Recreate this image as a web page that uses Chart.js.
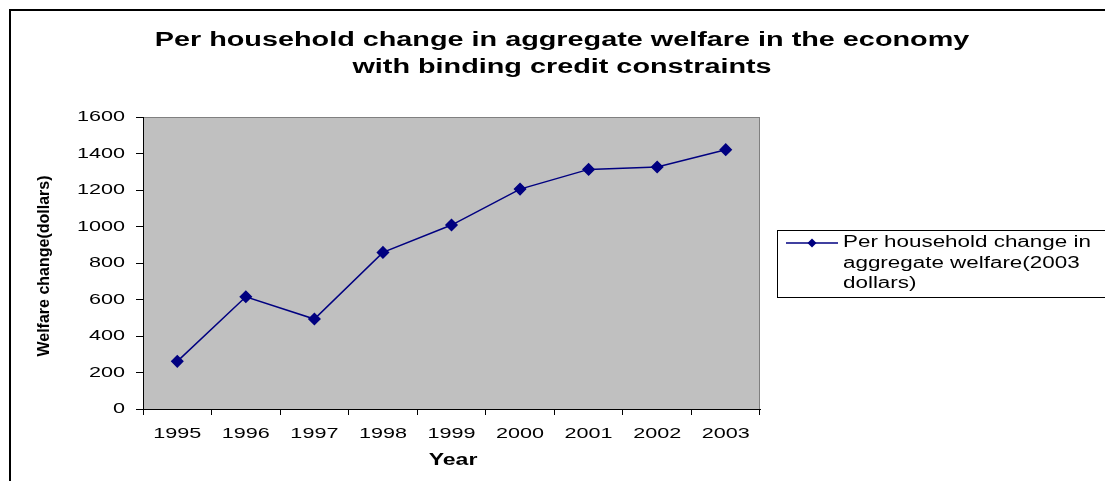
<!DOCTYPE html>
<html>
<head>
<meta charset="utf-8">
<script src="https://cdn.jsdelivr.net/npm/chart.js@4/dist/chart.umd.min.js"></script>
<style>
  html, body { margin: 0; padding: 0; background: #fff; }
  #wrap { width: 1105px; height: 481px; }
</style>
</head>
<body>
<div id="wrap"><canvas id="chart" width="1105" height="481"></canvas></div>
<script>
// data
const years = ['1995', '1996', '1997', '1998', '1999', '2000', '2001', '2002', '2003'];
const welfare = [261, 615, 493, 858, 1008, 1205, 1313, 1326, 1421];
const yTicks = [0, 200, 400, 600, 800, 1000, 1200, 1400, 1600];
const titleLines = ['Per household change in aggregate welfare in the economy', 'with binding credit constraints'];
const legendLines = ['Per household change in', 'aggregate welfare(2003', 'dollars)'];
const xTitle = 'Year';
const yTitle = 'Welfare change(dollars)';

const FONT = '"Liberation Sans", Arial, sans-serif';
const SX = 1.44; // text in the original is stretched sideways

function wideText(ctx, text, x, y, sx) {
    ctx.save();
    ctx.translate(x, y);
    ctx.scale(sx, 1);
    CanvasRenderingContext2D.prototype.fillText.call(ctx, text, 0, 0);
    ctx.restore();
}

const decor = {
    id: 'decor',
    beforeDraw(chart) {
        const ctx = chart.ctx;
        const a = chart.chartArea;
        ctx.save();
        // outer frame
        ctx.strokeStyle = '#000';
        ctx.lineWidth = 2;
        ctx.beginPath();
        ctx.moveTo(10, 481);
        ctx.lineTo(10, 10);
        ctx.lineTo(1105, 10);
        ctx.stroke();
        // plot area
        ctx.fillStyle = '#c0c0c0';
        ctx.fillRect(a.left, a.top, a.right - a.left, a.bottom - a.top);
        ctx.strokeStyle = '#808080';
        ctx.lineWidth = 1;
        ctx.strokeRect(a.left + 0.5, a.top + 0.5, a.right - a.left - 1, a.bottom - a.top);
        ctx.restore();
        // stretch tick labels like the original
        ctx.fillText = function (t, x, y) { wideText(this, t, x, y, SX); };
    },
    afterDraw(chart) {
        const ctx = chart.ctx;
        delete ctx.fillText;
        ctx.save();
        ctx.fillStyle = '#000';
        ctx.textBaseline = 'middle';
        ctx.textAlign = 'center';

        // title
        ctx.font = 'bold 20px ' + FONT;
        wideText(ctx, titleLines[0], 562, 40, SX);
        wideText(ctx, titleLines[1], 562, 67, SX);

        // axis titles
        ctx.font = 'bold 16px ' + FONT;
        wideText(ctx, xTitle, 453, 461, SX);
        ctx.save();
        ctx.translate(45, 266);
        ctx.rotate(-Math.PI / 2);
        wideText(ctx, yTitle, 0, 0, 1.0);
        ctx.restore();

        // legend
        const ds = chart.data.datasets[0];
        ctx.strokeStyle = '#000';
        ctx.lineWidth = 1;
        ctx.strokeRect(777.5, 230.5, 400, 67);
        ctx.strokeStyle = ds.borderColor;
        ctx.lineWidth = 1.5;
        ctx.beginPath();
        ctx.moveTo(786, 243);
        ctx.lineTo(838, 243);
        ctx.stroke();
        ctx.fillStyle = ds.pointBackgroundColor;
        ctx.beginPath();
        ctx.moveTo(812, 238.5);
        ctx.lineTo(816.5, 243);
        ctx.lineTo(812, 247.5);
        ctx.lineTo(807.5, 243);
        ctx.closePath();
        ctx.fill();
        ctx.fillStyle = '#000';
        ctx.textAlign = 'left';
        ctx.font = '16px ' + FONT;
        legendLines.forEach((s, i) => wideText(ctx, s, 843, 243 + i * 20.5, 1.4));
        ctx.restore();
    }
};

new Chart(document.getElementById('chart').getContext('2d'), {
    type: 'line',
    data: {
        labels: years,
        datasets: [{
            label: legendLines.join(' '),
            data: welfare,
            borderColor: '#000080',
            backgroundColor: '#000080',
            pointBackgroundColor: '#000080',
            pointBorderColor: '#000080',
            borderWidth: 1.5,
            pointStyle: 'rectRot',
            pointRadius: 5.5,
            tension: 0,
        }],
    },
    options: {
        responsive: false,
        animation: false,
        devicePixelRatio: 1,
        layout: { padding: { left: 0, top: 117, right: 345, bottom: 0 } },
        plugins: {
            legend: { display: false },
            title: { display: false },
            tooltip: { enabled: false },
        },
        scales: {
            x: {
                offset: true,
                grid: { display: true, offset: true, drawOnChartArea: false, color: '#000', tickLength: 6 },
                border: { color: '#000', width: 1 },
                ticks: { color: '#000', font: { family: FONT, size: 15 }, padding: 10, maxRotation: 0, autoSkip: false },
                afterFit(s) { s.height = 72; },
            },
            y: {
                min: yTicks[0],
                max: yTicks[yTicks.length - 1],
                grid: { display: true, drawOnChartArea: false, color: '#000', tickLength: 7 },
                border: { color: '#000', width: 1 },
                ticks: {
                    color: '#000',
                    stepSize: yTicks[1] - yTicks[0],
                    font: { family: FONT, size: 15 },
                    padding: 11,
                    callback: v => String(v),
                },
                afterFit(s) { s.width = 143; },
            },
        },
    },
    plugins: [decor],
});
</script>
</body>
</html>
